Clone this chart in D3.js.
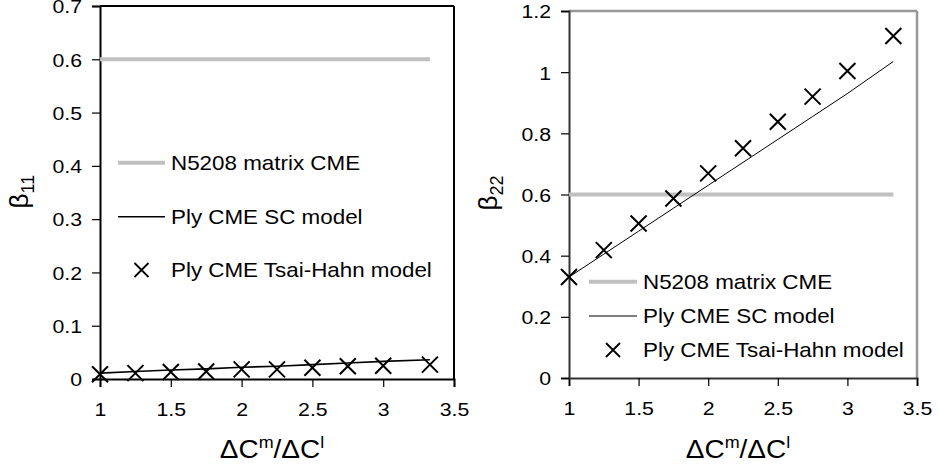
<!DOCTYPE html>
<html>
<head>
<meta charset="utf-8">
<script src="https://cdn.jsdelivr.net/npm/d3@7"></script>
<style>
  body { margin: 0; background: #fff; }
  text { font-family: "Liberation Sans", Arial, sans-serif; fill: #000; }
</style>
</head>
<body>
<div id="chart"></div>
<script>
// Dati
const ratio = [1, 1.25, 1.5, 1.75, 2, 2.25, 2.5, 2.75, 3, 3.33];
const matrixCME = [0.6, 0.6, 0.6, 0.6, 0.6, 0.6, 0.6, 0.6, 0.6, 0.6];
const sc11 = [0.011, 0.014, 0.017, 0.019, 0.022, 0.024, 0.027, 0.030, 0.033, 0.036];
const th11 = [0.009, 0.011, 0.013, 0.014, 0.018, 0.018, 0.021, 0.024, 0.025, 0.027];
const sc22 = [0.33, 0.405, 0.48, 0.555, 0.63, 0.705, 0.78, 0.855, 0.93, 1.035];
const th22 = [0.33, 0.418, 0.505, 0.587, 0.669, 0.751, 0.838, 0.92, 1.004, 1.118];
const xTicks = [1, 1.5, 2, 2.5, 3, 3.5];
const yTicks11 = [0, 0.1, 0.2, 0.3, 0.4, 0.5, 0.6, 0.7];
const yTicks22 = [0, 0.2, 0.4, 0.6, 0.8, 1, 1.2];
const legendLabels = ["N5208 matrix CME", "Ply CME SC model", "Ply CME Tsai-Hahn model"];

const stretch = 1.12; // il testo originale è un po' allargato

const svg = d3.select("#chart")
    .append("svg")
    .attr("width", 938)
    .attr("height", 466);

function cross(g, x, y, r, w) {
    g.append("path")
        .attr("d", `M${x - r},${y - r}L${x + r},${y + r}M${x - r},${y + r}L${x + r},${y - r}`)
        .attr("stroke", "#000")
        .attr("stroke-width", w)
        .attr("fill", "none");
}

function panel(o) {
    const g = svg.append("g");
    const x = d3.scaleLinear().domain([1, 3.5]).range([o.left, o.right]);
    const y = d3.scaleLinear().domain([0, o.yMax]).range([o.bottom, o.top]);

    // bordi
    g.append("line").attr("x1", o.left).attr("x2", o.right).attr("y1", o.top).attr("y2", o.top)
        .attr("stroke", o.frame).attr("stroke-width", o.frameW);
    g.append("line").attr("x1", o.right).attr("x2", o.right).attr("y1", o.top).attr("y2", o.bottom)
        .attr("stroke", o.frame).attr("stroke-width", o.frameW);

    // assi
    const xAxis = g.append("g")
        .attr("transform", `translate(0,${o.bottom})`)
        .call(d3.axisBottom(x).tickValues(xTicks).tickSize(8).tickPadding(16).tickFormat(d3.format("")));
    const yAxis = g.append("g")
        .attr("transform", `translate(${o.left},0)`)
        .call(d3.axisLeft(y).tickValues(o.yTicks).tickSize(8).tickPadding(10).tickFormat(d3.format("")));
    [xAxis, yAxis].forEach(a => {
        a.select(".domain").attr("stroke", o.axisColor).attr("stroke-width", 2);
        a.selectAll(".tick line").attr("stroke", "#000").attr("stroke-width", 1.2);
        a.selectAll(".tick text").attr("font-size", 19).attr("fill", "#000")
            .attr("transform", `scale(${stretch},1)`);
    });
    yAxis.selectAll(".tick text").attr("dy", "0.36em").attr("x", -18 / stretch);
    xAxis.selectAll(".tick text").attr("dy", "0.71em");

    const line = d3.line().x((d, i) => x(ratio[i])).y(d => y(d));

    // N5208 matrix CME
    g.append("path").datum(matrixCME)
        .attr("d", line).attr("fill", "none")
        .attr("stroke", "#c0c0c0").attr("stroke-width", 4);
    // SC model
    g.append("path").datum(o.sc)
        .attr("d", line).attr("fill", "none")
        .attr("stroke", "#000").attr("stroke-width", o.scW);
    // Tsai-Hahn
    o.th.forEach((d, i) => cross(g, x(ratio[i]), y(d), 8, 2));

    // legenda
    const lg = o.legend;
    g.append("line").attr("x1", lg.x0).attr("x2", lg.x1).attr("y1", lg.y[0]).attr("y2", lg.y[0])
        .attr("stroke", "#c0c0c0").attr("stroke-width", 4);
    g.append("line").attr("x1", lg.x0).attr("x2", lg.x1).attr("y1", lg.y[1]).attr("y2", lg.y[1])
        .attr("stroke", "#000").attr("stroke-width", o.scW);
    cross(g, (lg.x0 + lg.x1) / 2, lg.y[2], 7, 1.8);
    legendLabels.forEach((t, i) => {
        g.append("text")
            .attr("transform", `translate(${lg.x1 + 6},${lg.y[i] + 7}) scale(${stretch},1)`)
            .attr("font-size", 20)
            .text(t);
    });

    // titolo asse y
    const yt = g.append("text")
        .attr("transform", `translate(${o.yTitleX},${(o.top + o.bottom) / 2 + 16}) rotate(-90)`)
        .attr("font-size", 26);
    yt.append("tspan").text("β");
    yt.append("tspan").attr("font-size", 18).attr("dy", 6).text(o.sub);

    // titolo asse x
    const xt = g.append("text")
        .attr("transform", `translate(${(o.left + o.right) / 2 - 5},458) scale(${stretch},1)`)
        .attr("text-anchor", "middle")
        .attr("font-size", 25);
    xt.append("tspan").text("ΔC");
    xt.append("tspan").attr("font-size", 16).attr("dy", -10).text("m");
    xt.append("tspan").attr("dy", 10).text("/ΔC");
    xt.append("tspan").attr("font-size", 16).attr("dy", -10).text("l");
}

panel({
    left: 100, right: 454, top: 6, bottom: 379, yMax: 0.7, yTicks: yTicks11,
    frame: "#000", frameW: 2, axisColor: "#000", scW: 1.6, sc: sc11, th: th11, sub: "11", yTitleX: 28,
    legend: { x0: 118, x1: 165, y: [162.7, 216.7, 270] }
});

panel({
    left: 569, right: 917, top: 11, bottom: 378, yMax: 1.2, yTicks: yTicks22,
    frame: "#999", frameW: 2.5, axisColor: "#333", scW: 1, sc: sc22, th: th22, sub: "22", yTitleX: 497,
    legend: { x0: 589, x1: 637, y: [281.7, 316, 350] }
});
</script>
</body>
</html>
